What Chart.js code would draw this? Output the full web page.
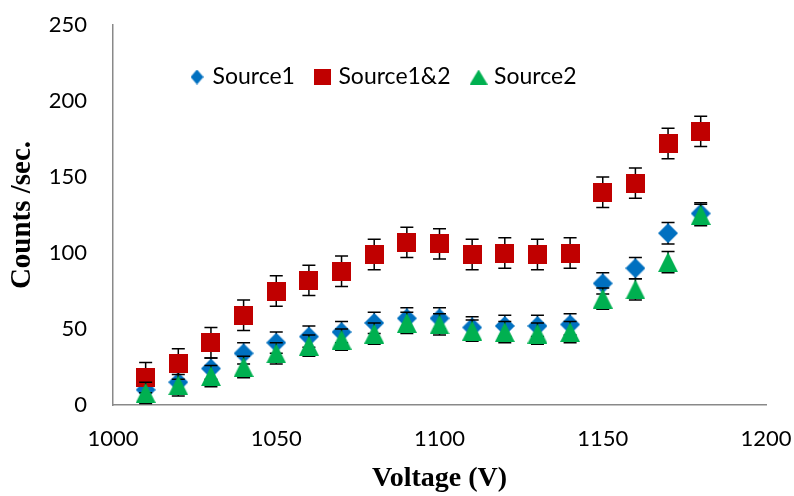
<!DOCTYPE html>
<html>
<head>
<meta charset="utf-8">
<script src="https://cdn.jsdelivr.net/npm/chart.js@4.4.1/dist/chart.umd.min.js"></script>
<style>
  html, body { margin: 0; padding: 0; background: #ffffff; }
  #wrap { width: 794px; height: 496px; }
</style>
</head>
<body>
<div id="wrap"><canvas id="chart" width="794" height="496"></canvas></div>
<script>
// Detector count rate versus applied voltage for two sources, alone and combined
const voltages = [1010, 1020, 1030, 1040, 1050, 1060, 1070, 1080, 1090, 1100, 1110, 1120, 1130, 1140, 1150, 1160, 1170, 1180];
const source1  = [10, 15, 24, 34, 41, 45, 48, 54, 57, 57, 51, 52, 52, 53, 80, 90, 113, 126];
const source12 = [18, 27, 41, 59, 75, 82, 88, 99, 107, 106, 99, 100, 99, 100, 140, 146, 172, 180];
const source2  = [8, 13, 19, 25, 34, 39, 43, 47, 54, 53, 49, 48, 47, 48, 70, 76, 94, 125];

// symmetric error bar half-lengths (counts/sec)
const source1Err  = [7, 7, 7, 7, 7, 7, 7, 7, 7, 7, 7, 7, 7, 7, 7, 7, 7, 7];
const source12Err = [10, 10, 10, 10, 10, 10, 10, 10, 10, 10, 10, 10, 10, 10, 10, 10, 10, 10];
const source2Err  = [7, 7, 7, 7, 7, 7, 7, 7, 7, 7, 7, 7, 7, 7, 7, 7, 7, 7];

const seriesNames = ['Source1', 'Source1&2', 'Source2'];
const xTickValues = [1000, 1050, 1100, 1150, 1200];
const yTickValues = [0, 50, 100, 150, 200, 250];

const COLORS = ['#0070C0', '#C00000', '#00B050'];

// filled marker glyphs drawn onto small canvases
function marker(shape, w, h, color) {
  const c = document.createElement('canvas');
  c.width = w; c.height = h;
  const g = c.getContext('2d');
  g.fillStyle = color;
  g.beginPath();
  if (shape === 'square') {
    g.rect(0, 0, w, h);
  } else if (shape === 'diamond') {
    g.moveTo(w / 2, 0); g.lineTo(w, h / 2); g.lineTo(w / 2, h); g.lineTo(0, h / 2); g.closePath();
  } else {
    g.moveTo(w / 2, 0); g.lineTo(w, h); g.lineTo(0, h); g.closePath();
  }
  g.fill();
  return c;
}

const plotMarkers = [
  marker('diamond', 20, 20, COLORS[0]),
  marker('square', 19, 19, COLORS[1]),
  marker('triangle', 20, 20, COLORS[2])
];
const legendMarkers = [
  marker('diamond', 13, 15, COLORS[0]),
  marker('square', 17, 16, COLORS[1]),
  marker('triangle', 18, 15, COLORS[2])
];

const seriesValues = [source1, source12, source2];
const seriesErrors = [source1Err, source12Err, source2Err];

function toPoints(values) {
  return voltages.map((v, i) => ({ x: v, y: values[i] }));
}

// error bars: vertical whisker with caps, drawn just beneath each series' markers
const errorBars = {
  id: 'errorBars',
  beforeDatasetDraw(chart, args) {
    const i = args.index;
    const errs = seriesErrors[i];
    const vals = seriesValues[i];
    const xs = chart.scales.x, ys = chart.scales.y;
    const ctx = chart.ctx;
    ctx.save();
    ctx.strokeStyle = '#000000';
    ctx.lineWidth = 1.5;
    const cap = 6.5;
    voltages.forEach((v, k) => {
      const px = xs.getPixelForValue(v);
      const top = ys.getPixelForValue(vals[k] + errs[k]);
      const bot = ys.getPixelForValue(vals[k] - errs[k]);
      ctx.beginPath();
      ctx.moveTo(px, top); ctx.lineTo(px, bot);
      ctx.moveTo(px - cap, top); ctx.lineTo(px + cap, top);
      ctx.moveTo(px - cap, bot); ctx.lineTo(px + cap, bot);
      ctx.stroke();
    });
    ctx.restore();
  }
};

const legendFont = { family: 'Lato', size: 23 };

// place the legend row inside the plot area, near its top
const legendInside = {
  id: 'legendInside',
  afterLayout(chart) {
    const lg = chart.legend;
    if (!lg) return;
    const pad = lg.options.labels.padding;
    const w = lg.right - lg.left;
    lg.left = 193 - pad;
    lg.right = lg.left + w;
    lg.top = 77 - legendFont.size / 2 - pad;
    lg.bottom = lg.top + 60;
  }
};

const tickFont = { family: 'Lato', size: 22 };

new Chart(document.getElementById('chart'), {
  type: 'scatter',
  data: {
    datasets: seriesNames.map((name, i) => ({
      label: name,
      data: toPoints(seriesValues[i]),
      pointStyle: plotMarkers[i],
      pointRadius: 10,
      pointHoverRadius: 10,
      backgroundColor: COLORS[i],
      borderColor: COLORS[i],
      showLine: false,
      order: [2, 1, 0][i]
    }))
  },
  options: {
    responsive: false,
    animation: false,
    devicePixelRatio: 1,
    layout: { padding: { top: 24, right: 28, bottom: 0, left: 0 } },
    plugins: {
      tooltip: { enabled: false },
      legend: {
        display: true,
        position: 'top',
        align: 'start',
        maxHeight: 1,
        labels: {
          usePointStyle: true,
          boxWidth: 8,
          padding: 24,
          color: '#000000',
          font: legendFont,
          generateLabels: (chart) => chart.data.datasets.map((ds, i) => ({
            text: ds.label,
            pointStyle: legendMarkers[i],
            fillStyle: COLORS[i],
            strokeStyle: COLORS[i],
            lineWidth: 0,
            hidden: false,
            datasetIndex: i,
            fontColor: '#000000'
          }))
        }
      }
    },
    scales: {
      x: {
        type: 'linear',
        position: 'bottom',
        min: xTickValues[0],
        max: xTickValues[xTickValues.length - 1],
        afterBuildTicks: (s) => { s.ticks = xTickValues.map(v => ({ value: v })); },
        afterFit: (s) => { s.height = 91; s.paddingLeft = 0; s.paddingRight = 0; },
        grid: { display: false, drawTicks: false },
        border: { display: true, color: '#898989', width: 1.5 },
        ticks: {
          padding: 21,
          color: '#000000',
          font: tickFont,
          maxRotation: 0,
          callback: (v) => String(v)
        },
        title: {
          display: true,
          text: 'Voltage (V)',
          color: '#000000',
          font: { family: 'Liberation Serif', weight: 'bold', size: 28 },
          padding: { top: 0, bottom: 0 }
        }
      },
      y: {
        type: 'linear',
        min: yTickValues[0],
        max: yTickValues[yTickValues.length - 1],
        afterBuildTicks: (s) => { s.ticks = yTickValues.map(v => ({ value: v })); },
        afterFit: (s) => { s.width = 113; s.paddingTop = 0; s.paddingBottom = 0; },
        grid: { display: false, drawTicks: false },
        border: { display: true, color: '#898989', width: 1.5 },
        ticks: {
          padding: 26,
          color: '#000000',
          font: tickFont,
          callback: (v) => String(v)
        },
        title: {
          display: true,
          text: 'Counts /sec.',
          color: '#000000',
          font: { family: 'Liberation Serif', weight: 'bold', size: 29 },
          padding: { top: 5, bottom: 0 }
        }
      }
    }
  },
  plugins: [errorBars, legendInside]
});
</script>
</body>
</html>
